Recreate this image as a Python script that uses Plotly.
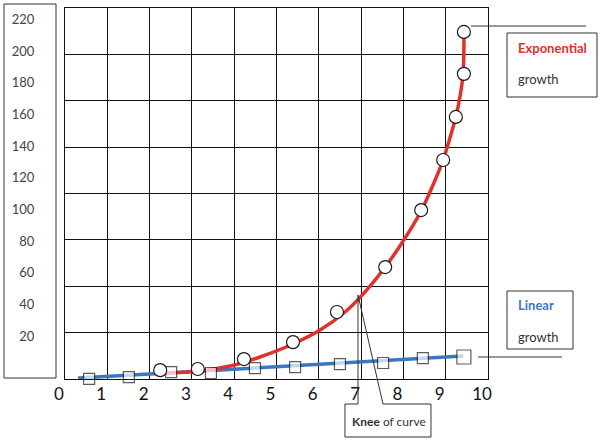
import plotly.graph_objects as go

# ---- data ----
x_ticks = [0, 1, 2, 3, 4, 5, 6, 7, 8, 9, 10]
x_tick_labels = ["0", "1", "2", "3", "4", "5", "6", "7", "8", "9", "10"]
y_ticks = [20, 40, 60, 80, 100, 120, 140, 160, 180, 200, 220]
y_tick_labels = ["20", "40", "60", "80", "100", "120", "140", "160", "180", "200", "220"]

exp_curve_x = [2.39, 3.19, 3.90, 4.61, 5.39, 6.03, 6.62, 7.09, 7.57, 8.01, 8.42, 8.70, 8.94,
               9.10, 9.24, 9.34, 9.41, 9.43, 9.43]
exp_curve_y = [-3.4, -2.1, 1.1, 6.8, 15.0, 23.8, 35.2, 47.8, 63.6, 80.7, 99.0, 115.4, 131.2,
               145.1, 158.4, 171.6, 185.5, 200.6, 212.1]
exp_points_x = [2.25, 3.14, 4.23, 5.39, 6.43, 7.57, 8.42, 8.94, 9.24, 9.43, 9.43]
exp_points_y = [-1.5, -0.8, 5.5, 16.2, 35.2, 63.6, 99.6, 131.2, 158.4, 185.6, 212.1]

lin_line_x = [0.31, 9.41]
lin_line_y = [-6.5, 7.4]
lin_points_x = [0.57, 1.51, 2.51, 3.45, 4.49, 5.44, 6.50, 7.52, 8.46, 9.43]
lin_points_y = [-7.0, -5.9, -2.7, -3.3, -0.2, 0.4, 2.3, 3.0, 6.1, 6.8]

y_range = [-7.1, 227.2]
grid_rows = 8

RED = "#e2302a"
BLUE = "#3a78c2"
EDGE = "#1a1a1a"
FONT = "Lato"

fig = go.Figure()

fig.add_trace(go.Scatter(x=lin_line_x, y=lin_line_y, mode="lines",
                         line=dict(color=BLUE, width=3.5), hoverinfo="skip"))
fig.add_trace(go.Scatter(x=exp_curve_x, y=exp_curve_y, mode="lines",
                         line=dict(color=RED, width=3.5, shape="spline", smoothing=0.6),
                         hoverinfo="skip"))
fig.add_trace(go.Scatter(x=lin_points_x, y=lin_points_y, mode="markers",
                         cliponaxis=False,
                         marker=dict(symbol="square", size=[11] * 9 + [14], color="white",
                                     line=dict(color=EDGE, width=1.2))))
fig.add_trace(go.Scatter(x=exp_points_x, y=exp_points_y, mode="markers",
                         cliponaxis=False,
                         marker=dict(symbol="circle", size=13, color="white",
                                     line=dict(color=EDGE, width=1.2))))

L, R, T, B = 65, 113, 8, 68
W, H = 601, 447
pw, ph = W - L - R, H - T - B


def px(x):
    return (x - L) / pw


def py(y):
    return (H - B - y) / ph


LC = "#333"
shapes = []
shapes.append(dict(type="rect", xref="paper", yref="paper",
                   x0=px(4), x1=px(56), y0=py(378), y1=py(4),
                   line=dict(color=LC, width=1)))
shapes.append(dict(type="rect", xref="paper", yref="paper",
                   x0=px(507), x1=px(597), y0=py(97), y1=py(33),
                   line=dict(color=LC, width=1)))
shapes.append(dict(type="line", xref="paper", yref="paper",
                   x0=px(471), x1=px(586), y0=py(26), y1=py(26),
                   line=dict(color=LC, width=1)))
shapes.append(dict(type="rect", xref="paper", yref="paper",
                   x0=px(507), x1=px(573), y0=py(349), y1=py(291),
                   line=dict(color=LC, width=1)))
shapes.append(dict(type="line", xref="paper", yref="paper",
                   x0=px(478), x1=px(562), y0=py(357), y1=py(357),
                   line=dict(color=LC, width=1)))
pts = [(345, 404), (358, 404), (358, 295), (383, 404), (431, 404), (431, 437), (345, 437)]
path = "M " + " L ".join(f"{px(a):.4f},{py(b):.4f}" for a, b in pts) + " Z"
shapes.append(dict(type="path", xref="paper", yref="paper", path=path,
                   line=dict(color=LC, width=1)))

annotations = [
    dict(xref="paper", yref="paper", x=px(516), y=py(48), xanchor="left", yanchor="middle",
         text="<b>Exponential</b>", showarrow=False, font=dict(family=FONT, size=13, color=RED)),
    dict(xref="paper", yref="paper", x=px(516), y=py(79), xanchor="left", yanchor="middle",
         text="growth", showarrow=False, font=dict(family=FONT, size=13, color="#333")),
    dict(xref="paper", yref="paper", x=px(516), y=py(305), xanchor="left", yanchor="middle",
         text="<b>Linear</b>", showarrow=False, font=dict(family=FONT, size=13, color=BLUE)),
    dict(xref="paper", yref="paper", x=px(516), y=py(337), xanchor="left", yanchor="middle",
         text="growth", showarrow=False, font=dict(family=FONT, size=13, color="#333")),
    dict(xref="paper", yref="paper", x=px(388.5), y=py(422), xanchor="center", yanchor="middle",
         text="<b>Knee</b> of curve", showarrow=False, font=dict(family=FONT, size=12, color="#333")),
]

row_step = (y_range[1] - y_range[0]) / grid_rows

fig.update_layout(
    width=W, height=H,
    margin=dict(l=L, r=R, t=T, b=B, autoexpand=False),
    paper_bgcolor="white", plot_bgcolor="white",
    showlegend=False,
    font=dict(family=FONT, color="#222"),
    xaxis=dict(range=[0, 10], tickvals=x_ticks, ticktext=x_tick_labels, automargin=False,
               showgrid=True, gridcolor="#111", gridwidth=1, zeroline=False,
               showline=True, linecolor="#111", linewidth=1, mirror=True,
               ticks="", ticklabelshift=-6,
               tickfont=dict(family=FONT, size=17, color="#111")),
    yaxis=dict(range=y_range, tickvals=y_ticks, ticktext=y_tick_labels, automargin=False,
               showgrid=False, zeroline=False,
               minor=dict(tick0=y_range[0], dtick=row_step, showgrid=True,
                          gridcolor="#111", gridwidth=1, ticks=""),
               showline=True, linecolor="#111", linewidth=1, mirror=True,
               ticks="", ticklabelstandoff=27,
               tickfont=dict(family=FONT, size=13, color="#444")),
    shapes=shapes,
    annotations=annotations,
)

fig.write_html("out.html", config={"displayModeBar": False},
               post_script="document.body.style.margin='0';document.body.style.padding='0';")
